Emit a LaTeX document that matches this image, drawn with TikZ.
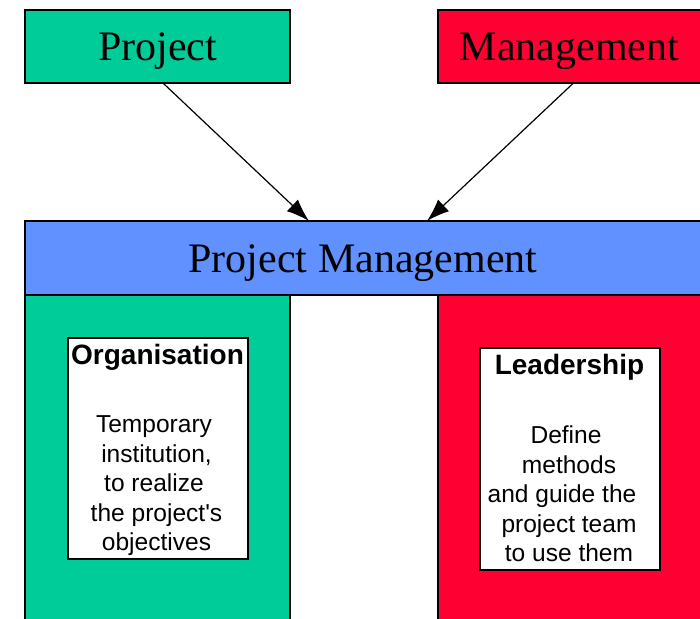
\documentclass[tikz,border=0pt]{standalone}
\usepackage{fontspec}
\setmainfont{Liberation Serif}
\setsansfont{Liberation Sans}
\usetikzlibrary{arrows.meta}
\definecolor{pmgreen}{HTML}{00CC99}
\definecolor{pmred}{HTML}{FF0033}
\definecolor{pmblue}{HTML}{6191FF}
\begin{document}
\begin{tikzpicture}[x=0.75pt,y=-0.75pt,
  box/.style={draw=black,line width=1pt,inner sep=0pt,outer sep=0pt,anchor=north west},
  bigtext/.style={font=\fontsize{31.5}{36}\selectfont,inner sep=0pt,anchor=base},
  titletext/.style={font=\sffamily\bfseries\fontsize{21}{25}\selectfont,inner sep=0pt,anchor=base},
  bodytext/.style={font=\sffamily\fontsize{18.4}{22.1}\selectfont,inner sep=0pt,align=center,anchor=base},
  arr/.style={line width=0.9pt,-{Latex[length=17pt,width=12pt]}}]
\useasboundingbox (0,0) rectangle (700,618);
\clip (0,0) rectangle (700,618);
% columns
\node[box,fill=pmgreen,minimum width=198.75pt,minimum height=258.75pt] (lcol) at (25,295) {};
\node[box,fill=pmred,minimum width=198pt,minimum height=258.75pt] (rcol) at (438,295) {};
% top boxes
\node[box,fill=pmgreen,minimum width=198.75pt,minimum height=54.75pt] (proj) at (25,10) {};
\node[box,fill=pmred,minimum width=198pt,minimum height=54.75pt] (mgmt) at (438,10) {};
\node[bigtext] (projt) at (157.5,60.5) {Project};
\node[bigtext] (mgmtt) at (569.5,60.5) {Management};
% bar
\node[box,fill=pmblue,minimum width=507.75pt,minimum height=55.5pt] (pm) at (25,221) {};
\node[bigtext] (pmt) at (363,272) {Project Management};
% inner boxes
\node[box,fill=white,minimum width=135pt,minimum height=165.75pt] (org) at (68,338) {};
\node[titletext] (orgt) at (157.5,364) {Organisation};
\node[bodytext] (orgb) at (156.5,550.5) {Temporary\rule{3.75pt}{0pt}\\institution,\\to realize\rule{3.75pt}{0pt}\\the project\textquotesingle s\\objectives};
\node[box,fill=white,minimum width=135pt,minimum height=166.5pt] (lead) at (480,348) {};
\node[titletext] (leadt) at (569.5,374.5) {Leadership};
\node[bodytext] (leadb) at (569,561.5) {Define\rule{4.5pt}{0pt}\\methods\\and guide the\rule{10.5pt}{0pt}\\project team\\to use them};
% arrows
\draw[arr] ([xshift=4.1pt]proj.south) -- ([xshift=-40.9pt]pm.north);
\draw[arr] ([xshift=2.6pt]mgmt.south) -- ([xshift=47.6pt]pm.north);
\end{tikzpicture}
\end{document}
